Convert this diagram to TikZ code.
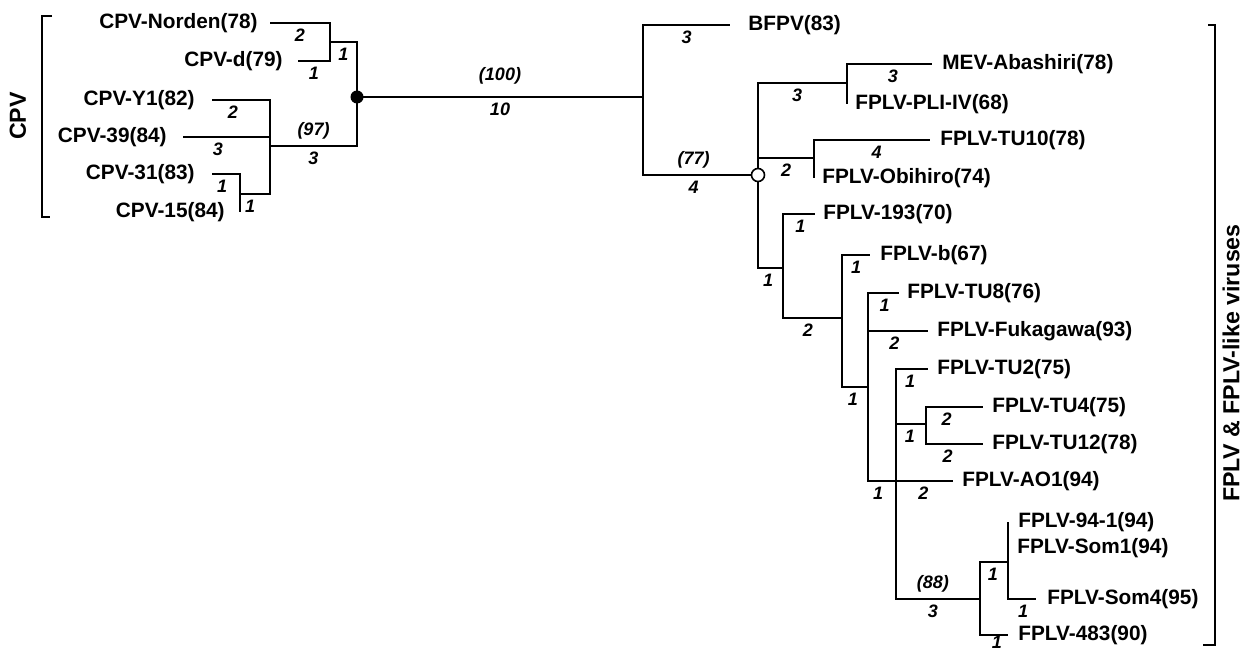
\documentclass[tikz,border=0pt]{standalone}
\usepackage{fontspec}
\setmainfont{Liberation Sans}
\usepackage{tikz}
\usetikzlibrary{positioning}

\begin{document}
\begin{tikzpicture}[x=0.5pt, y=-0.5pt,
    branch/.style={line width=1.4pt},
    len/.style={below=1.5pt, pos=0.75, inner sep=1pt, font=\fontsize{9}{10}\selectfont\bfseries\itshape},
    boot/.style={above=1.5pt, pos=0.75, inner sep=1pt, font=\fontsize{9}{10}\selectfont\bfseries\itshape},
    leaf/.style={inner sep=0pt, font=\fontsize{10.4}{12}\selectfont\bfseries},
    clade/.style={inner sep=0pt, rotate=90, font=\fontsize{11.6}{13}\selectfont\bfseries},
    bracket/.style={line width=1.2pt}]

    \useasboundingbox (0,0) rectangle (1252,652);

    \coordinate (cB) at (357,97);
    \coordinate (cA) at (330,42);
    \coordinate (cC) at (270,146);
    \coordinate (cD) at (240,194);
    \coordinate (tNorden) at (270,23);
    \coordinate (tD) at (298,61);
    \coordinate (tY1) at (212,100);
    \coordinate (t39) at (183,137);
    \coordinate (t31) at (212,174);
    \coordinate (t15) at (240,212);

    \coordinate (rA) at (643,97);
    \coordinate (rB) at (758,175);
    \coordinate (rC) at (847,83);
    \coordinate (rD) at (814,158);
    \coordinate (rE) at (783,268);
    \coordinate (rF) at (842,318);
    \coordinate (rG) at (868,387);
    \coordinate (rH) at (896,481);
    \coordinate (rI) at (926,424);
    \coordinate (rJ) at (980,599);
    \coordinate (rK) at (1008,562);

    \coordinate (tBFPV) at (730,25);
    \coordinate (tMEV) at (932,64);
    \coordinate (tPLI) at (847,104);
    \coordinate (tTU10) at (930,140);
    \coordinate (tObi) at (814,178);
    \coordinate (t193) at (815,214);
    \coordinate (tb) at (870,255);
    \coordinate (tTU8) at (899,293);
    \coordinate (tFuk) at (928,331);
    \coordinate (tTU2) at (928,369);
    \coordinate (tTU4) at (983,407);
    \coordinate (tTU12) at (983,444);
    \coordinate (tAO1) at (953,481);
    \coordinate (t941) at (1008,522);
    \coordinate (tSom1) at (1008,548);
    \coordinate (tSom4) at (1036,599);
    \coordinate (t483) at (1008,635);

    \node[leaf, left=6pt of tNorden] (Norden) {CPV-Norden(78)};
    \node[leaf, left=7.5pt of tD] (CPVd) {CPV-d(79)};
    \node[leaf, left=8.5pt of tY1] (Y1) {CPV-Y1(82)};
    \node[leaf, left=8pt of t39] (CPV39) {CPV-39(84)};
    \node[leaf, left=8.5pt of t31] (CPV31) {CPV-31(83)};
    \node[leaf, left=7.5pt of t15] (CPV15) {CPV-15(84)};

    \node[leaf, right=9pt of tBFPV] (BFPV) {BFPV(83)};
    \node[leaf, right=5pt of tMEV] (MEV) {MEV-Abashiri(78)};
    \node[leaf, right=4pt of tPLI] (PLI) {FPLV-PLI-IV(68)};
    \node[leaf, right=5pt of tTU10] (TU10) {FPLV-TU10(78)};
    \node[leaf, right=4pt of tObi] (Obi) {FPLV-Obihiro(74)};
    \node[leaf, right=4pt of t193] (F193) {FPLV-193(70)};
    \node[leaf, right=5pt of tb] (Fb) {FPLV-b(67)};
    \node[leaf, right=4pt of tTU8] (TU8) {FPLV-TU8(76)};
    \node[leaf, right=4.5pt of tFuk] (Fuk) {FPLV-Fukagawa(93)};
    \node[leaf, right=4.5pt of tTU2] (TU2) {FPLV-TU2(75)};
    \node[leaf, right=4.5pt of tTU4] (TU4) {FPLV-TU4(75)};
    \node[leaf, right=4.5pt of tTU12] (TU12) {FPLV-TU12(78)};
    \node[leaf, right=4.5pt of tAO1] (AO1) {FPLV-AO1(94)};
    \node[leaf, right=5pt of t941] (F941) {FPLV-94-1(94)};
    \node[leaf, right=4.5pt of tSom1] (Som1) {FPLV-Som1(94)};
    \node[leaf, right=5.5pt of tSom4] (Som4) {FPLV-Som4(95)};
    \node[leaf, right=5pt of t483] (F483) {FPLV-483(90)};

    \draw[branch] (cA) |- node[len] {2} (tNorden);
    \draw[branch] (cA) |- node[len] {1} (tD);
    \draw[branch] (cB) |- node[len] {1} (cA);
    \draw[branch] (cC) |- node[len, pos=0.82] {2} (tY1);
    \draw[branch] (cC) |- node[len, pos=0.8] {3} (t39);
    \draw[branch] (cC) |- node[len, pos=0.83] {1} (cD);
    \draw[branch] (cD) |- node[len, pos=0.82] {1} (t31);
    \draw[branch] (cD) |- (t15);
    \draw[branch] (cB) |- node[boot] {(97)} node[len] {3} (cC);

    \draw[branch] (cB) -- node[boot, pos=0.5, above=4.5pt] {(100)} node[len, pos=0.5] {10} (rA);

    \draw[branch] (rA) |- node[len] {3} (tBFPV);
    \draw[branch] (rA) |- node[boot, pos=0.72] {(77)} node[len, pos=0.72] {4} (rB);
    \draw[branch] (rB) |- node[len, pos=0.72] {3} (rC);
    \draw[branch] (rC) |- node[len, pos=0.77] {3} (tMEV);
    \draw[branch] (rC) |- (tPLI);
    \draw[branch] (rB) |- node[len] {2} (rD);
    \draw[branch] (rD) |- node[len, pos=0.77] {4} (tTU10);
    \draw[branch] (rD) |- (tObi);
    \draw[branch] (rB) |- node[len, pos=0.7] {1} (rE);
    \draw[branch] (rE) |- node[len, pos=0.77] {1} (t193);
    \draw[branch] (rE) |- node[len, pos=0.71] {2} (rF);
    \draw[branch] (rF) |- node[len] {1} (tb);
    \draw[branch] (rF) |- node[len, pos=0.71] {1} (rG);
    \draw[branch] (rG) |- node[len, pos=0.77] {1} (tTU8);
    \draw[branch] (rG) |- node[len, pos=0.72] {2} (tFuk);
    \draw[branch] (rG) |- node[len, pos=0.68] {1} (rH);
    \draw[branch] (rH) |- node[len, pos=0.72] {1} (tTU2);
    \draw[branch] (rH) |- node[len, pos=0.73] {1} (rI);
    \draw[branch] (rI) |- node[len, pos=0.68] {2} (tTU4);
    \draw[branch] (rI) |- node[len, pos=0.69] {2} (tTU12);
    \draw[branch] (rH) |- node[len, pos=0.74] {2} (tAO1);
    \draw[branch] (rH) |- node[boot, pos=0.72] {(88)} node[len, pos=0.72] {3} (rJ);
    \draw[branch] (rJ) |- node[len, pos=0.73] {1} (rK);
    \draw[branch] (rJ) |- node[len, pos=0.8, below=0pt, inner sep=0pt] {1} (t483);
    \draw[branch] (rK) |- (t941);
    \draw[branch] (rK) |- node[len, pos=0.77] {1} (tSom4);

    \node[circle, fill=black, inner sep=0pt, minimum size=6.5pt] (cpvroot) at (cB) {};
    \node[circle, draw, fill=white, line width=0.8pt, inner sep=0pt, minimum size=6.5pt] (fplvroot) at (rB) {};

    \draw[bracket] (52,16) -- (42,16) -- (42,217) -- (50,217);
    \draw[bracket] (1208,25) -- (1215,25) -- (1215,645) -- (1203,645);
    \node[clade] (cpvlab) at (18,116) {CPV};
    \node[clade] (fplvlab) at (1231,363) {FPLV \& FPLV-like viruses};

\end{tikzpicture}
\end{document}
